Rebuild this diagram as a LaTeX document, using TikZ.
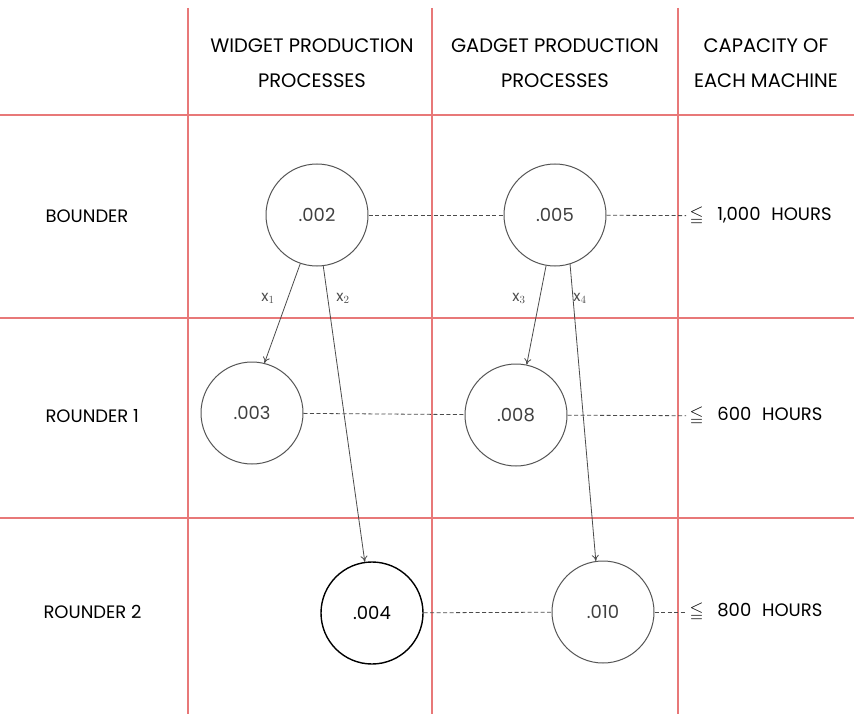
\documentclass[tikz,border=0pt]{standalone}
\usepackage{amssymb}
\usepackage{fontspec}
\setmainfont{Poppins}
\usetikzlibrary{arrows.meta}
\definecolor{gridcolor}{RGB}{232,120,120}
\definecolor{circlecolor}{RGB}{85,85,85}
\definecolor{dashcolor}{RGB}{75,75,75}

\begin{document}
\begin{tikzpicture}[x=1pt,y=-1pt]
  \tikzset{
    grid/.style={
      draw=gridcolor,
      line width=1.1pt
    },
    proc/.style={
      circle,
      draw=circlecolor,
      line width=1pt,
      minimum size=102pt,
      inner sep=0pt,
      font=\fontsize{18}{20}\selectfont,
      text=black!75
    },
    head/.style={
      font=\fontsize{19.5}{22}\selectfont,
      anchor=center
    },
    rowlabel/.style={
      font=\fontsize{18}{20}\selectfont,
      anchor=west
    },
    flow/.style={
      draw=dashcolor,
      line width=0.8pt,
      -{To[length=6pt,width=7pt]}
    },
    tie/.style={
      draw=dashcolor,
      line width=0.8pt,
      dash pattern=on 4pt off 2.5pt
    },
    xlabel/.style={
      font=\fontsize{15}{17}\selectfont,
      text=black!70
    }
  }
  \useasboundingbox (0,0) rectangle (854,714);

  % Draw the grid
  \draw[grid] (0,115) -- (854,115);
  \draw[grid] (0,318) -- (854,318);
  \draw[grid] (0,518) -- (854,518);
  \draw[grid] (188,8) -- (188,714);
  \draw[grid] (432,8) -- (432,714);
  \draw[grid] (678,8) -- (678,714);

  % Column headings
  \node[head] at (312,46) (widgethead) {WIDGET PRODUCTION};
  \node[head] at (312,81) (widgethead2) {PROCESSES};
  \node[head] at (555,46) (gadgethead) {GADGET PRODUCTION};
  \node[head] at (555,81) (gadgethead2) {PROCESSES};
  \node[head] at (766,46) (caphead) {CAPACITY OF};
  \node[head] at (766,81) (caphead2) {EACH MACHINE};

  % Machines
  \node[rowlabel] at (42,216) (bounder) {BOUNDER};
  \node[rowlabel] at (42,416) (rounderone) {ROUNDER 1};
  \node[rowlabel] at (40,612) (roundertwo) {ROUNDER 2};

  % Processes
  \node[proc] at (317,215) (w1) {.002};
  \node[proc] at (555,215) (g1) {.005};
  \node[proc] at (252,413) (w2) {.003};
  \node[proc] at (516,415) (g2) {.008};
  \node[proc, draw=black, line width=1.4pt, text=black] at (372,613) (w3) {.004};
  \node[proc] at (603,612) (g3) {.010};

  % Capacities
  \node[rowlabel] at (686,216) (cap1) {$\leqq$\,\,\, 1,000\,\, HOURS};
  \node[rowlabel] at (686,416) (cap2) {$\leqq$\,\,\, 600\,\, HOURS};
  \node[rowlabel] at (686,612) (cap3) {$\leqq$\,\,\, 800\,\, HOURS};

  % Dashed ties between processes
  \draw[tie] (w1) -- (g1);
  \draw[tie] (g1) -- (cap1);
  \draw[tie] (w2) -- (g2);
  \draw[tie] (g2) -- (cap2);
  \draw[tie] (w3) -- (g3);
  \draw[tie] (g3) -- (cap3);

  % Arrows
  \draw[flow] (w1.-109) -- (w2.76);
  \draw[flow] (w1.-83) -- (w3.98);
  \draw[flow] (g1.-100) -- (g2.78);
  \draw[flow] (g1.-73) -- (g3.98);

  \node[xlabel] at (268,298) (x1) {x$_{1}$};
  \node[xlabel] at (343,298) (x2) {x$_{2}$};
  \node[xlabel] at (519,298) (x3) {x$_{3}$};
  \node[xlabel] at (580,298) (x4) {x$_{4}$};

\end{tikzpicture}
\end{document}
